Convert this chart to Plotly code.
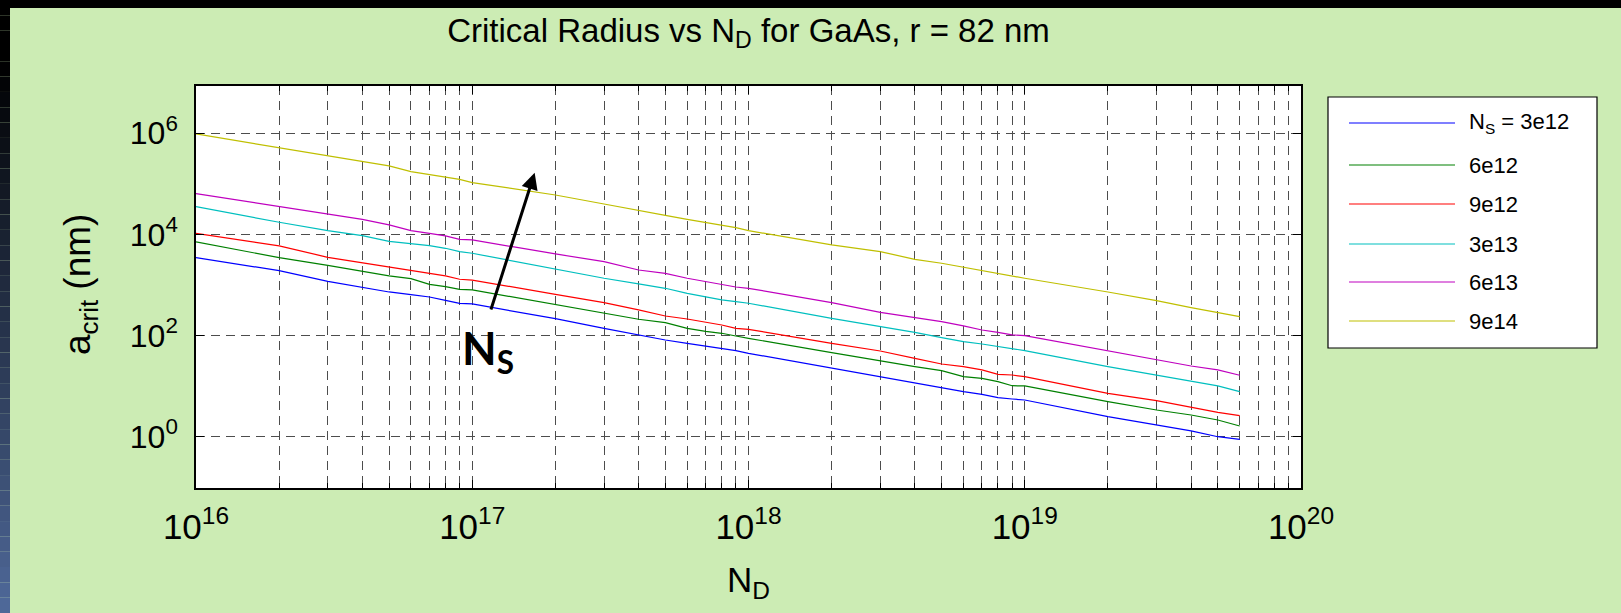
import plotly.graph_objects as go

# ---------------- data ----------------
nd = [1e16, 2e16, 3e16, 4e16, 5e16, 6e16, 7e16, 8e16, 9e16,
      1e17, 2e17, 3e17, 4e17, 5e17, 6e17, 7e17, 8e17, 9e17,
      1e18, 2e18, 3e18, 4e18, 5e18, 6e18, 7e18, 8e18, 9e18,
      1e19, 2e19, 3e19, 4e19, 5e19, 6e19]

ns_3e12 = [3.48e3, 1.92e3, 1.18e3, 914, 728, 645, 580, 498, 435,
           422, 216, 139, 103, 81.8, 70.3, 62.2, 56.0, 50.4,
           44.6, 22.5, 15.4, 11.4, 9.06, 7.78, 6.89, 5.93, 5.57,
           5.32, 2.49, 1.71, 1.30, 1.00, 0.89]
ns_6e12 = [7.10e3, 3.48e3, 2.45e3, 1.90e3, 1.51e3, 1.34e3, 1.03e3, 929, 822,
           800, 403, 275, 210, 180, 139, 121, 111, 98.2,
           88.3, 45.9, 31.4, 24.3, 20.3, 15.4, 14.3, 12.3, 10.2,
           10.1, 4.93, 3.38, 2.69, 2.14, 1.63]
ns_9e12 = [1.05e4, 5.92e3, 3.53e3, 2.77e3, 2.24e3, 1.92e3, 1.70e3, 1.51e3, 1.30e3,
           1.25e3, 655, 448, 321, 244, 213, 186, 162, 139,
           133, 70.3, 49.5, 35.5, 27.4, 24.3, 20.9, 17.1, 16.6,
           15.4, 7.21, 5.16, 3.76, 3.04, 2.61]
ns_3e13 = [3.55e4, 1.74e4, 1.19e4, 9.46e3, 7.31e3, 6.68e3, 6.00e3, 5.32e3, 4.57e3,
           4.24e3, 2.04e3, 1.36e3, 1.05e3, 861, 685, 589, 506, 469,
           435, 219, 150, 116, 91.0, 75.9, 68.2, 60.4, 55.2,
           50.4, 24.3, 16.6, 12.3, 10.1, 7.78]
ns_6e13 = [6.41e4, 3.60e4, 2.50e4, 1.99e4, 1.54e4, 1.19e4, 1.05e4, 9.33e3, 8.01e3,
           7.78e3, 4.11e3, 2.90e3, 1.98e3, 1.70e3, 1.36e3, 1.17e3, 1.03e3, 914,
           861, 448, 288, 230, 188, 155, 129, 116, 103,
           99.7, 50.4, 32.9, 25.0, 20.9, 16.4]
ns_9e14 = [9.7e5, 5.2e5, 3.56e5, 2.84e5, 2.26e5, 1.75e5, 1.52e5, 1.35e5, 1.23e5,
           1.06e5, 6.03e4, 4.0e4, 3.05e4, 2.39e4, 1.99e4, 1.71e4, 1.54e4, 1.36e4,
           1.19e4, 6.19e3, 4.57e3, 3.22e3, 2.69e3, 2.24e3, 1.90e3, 1.70e3, 1.51e3,
           1.36e3, 728, 491, 357, 288, 237]

series_names = ["N<sub>S</sub> = 3e12", "6e12", "9e12", "3e13", "6e13", "9e14"]
series_values = [ns_3e12, ns_6e12, ns_9e12, ns_3e13, ns_6e13, ns_9e14]
series_colors = ["#0000FF", "#008000", "#FF0000", "#00BFBF", "#BF00BF", "#BFBF00"]

x_tick_exp = [16, 17, 18, 19, 20]
y_tick_exp = [0, 2, 4, 6]

# ---------------- layout geometry ----------------
W, H = 1621, 613
PL, PR, PT, PB = 196, 1301, 86, 488
BG = "#CCECB4"
FONT = "Liberation Sans, Arial, sans-serif"


def px(xp):
    return (xp - PL) / (PR - PL)


def py(yp):
    return (PB - yp) / (PB - PT)


fig = go.Figure()
for name, vals, col in zip(series_names, series_values, series_colors):
    fig.add_trace(go.Scatter(x=nd, y=vals, mode="lines", name=name,
                             line=dict(color=col, width=1.2), showlegend=False))

shapes = []
# dark frame decoration: top band and left gradient strip
shapes.append(dict(type="rect", xref="paper", yref="paper",
                   x0=px(0), x1=px(W), y0=py(8), y1=py(0),
                   fillcolor="#000000", line=dict(width=0), layer="below"))
n_slices = 40
for i in range(n_slices):
    y0p = i * H / n_slices
    y1p = (i + 1) * H / n_slices
    t = max(0.0, (((y0p + y1p) / 2) - 60) / (H - 60))
    r = int(0 + t * 80)
    g = int(0 + t * 106)
    b = int(0 + t * 155)
    shapes.append(dict(type="rect", xref="paper", yref="paper",
                       x0=px(0), x1=px(10), y0=py(y1p), y1=py(y0p),
                       fillcolor=f"rgb({r},{g},{b})", line=dict(width=0), layer="below"))

# custom legend (long line samples like the original)
LX0, LX1, LY0, LY1 = 1328, 1597, 97, 348
shapes.append(dict(type="rect", xref="paper", yref="paper",
                   x0=px(LX0), x1=px(LX1), y0=py(LY1), y1=py(LY0),
                   fillcolor="white", line=dict(color="black", width=1.2)))
entry_y = [123, 165, 204, 244, 282, 321]
annotations = []
for name, col, ey in zip(series_names, series_colors, entry_y):
    shapes.append(dict(type="line", xref="paper", yref="paper",
                       x0=px(1349), x1=px(1455), y0=py(ey), y1=py(ey),
                       line=dict(color=col, width=1.2)))
    annotations.append(dict(xref="paper", yref="paper", x=px(1467), y=py(ey),
                            text=name, showarrow=False, xanchor="left", yanchor="middle",
                            font=dict(family=FONT, size=22, color="black")))

# axis titles
annotations.append(dict(xref="paper", yref="paper", x=px(80), y=py(285),
                        text="a<sub>crit</sub> (nm)", textangle=-90, showarrow=False,
                        xanchor="center", yanchor="middle",
                        font=dict(family=FONT, size=37, color="black")))
annotations.append(dict(xref="paper", yref="paper", x=0.5, y=py(582),
                        text="N<sub>D</sub>", showarrow=False,
                        xanchor="center", yanchor="middle",
                        font=dict(family=FONT, size=35, color="black")))

# arrow and N_S label
annotations.append(dict(x=17.226, y=5.221, ax=17.066, ay=2.486,
                        xref="x", yref="y", axref="x", ayref="y",
                        text="", showarrow=True, arrowhead=2, arrowsize=1.1,
                        arrowwidth=3, arrowcolor="black"))
annotations.append(dict(x=17.058, y=1.70, xref="x", yref="y",
                        text="<b>N<sub>S</sub></b>", showarrow=False,
                        font=dict(family="Lato, Open Sans, sans-serif", size=45, color="black")))

fig.update_layout(
    width=W, height=H,
    paper_bgcolor=BG, plot_bgcolor="white",
    margin=dict(l=PL, r=W - PR, t=PT, b=H - PB, autoexpand=False),
    font=dict(family=FONT, color="black"),
    title=dict(text="Critical Radius vs N<sub>D</sub> for GaAs, r = 82 nm",
               x=0.5, xref="paper", xanchor="center", y=1 - 30 / H, yanchor="middle",
               font=dict(family=FONT, size=33, color="black")),
    shapes=shapes, annotations=annotations,
)

fig.update_xaxes(
    type="log", range=[16, 20],
    tickvals=[10.0 ** e for e in x_tick_exp],
    ticktext=[f"10<sup>{e}</sup>" for e in x_tick_exp],
    tickfont=dict(family=FONT, size=35, color="black"),
    ticks="inside", ticklen=8, tickcolor="black", ticklabelstandoff=7,
    showline=True, linecolor="black", linewidth=1.5, mirror="ticks",
    showgrid=True, gridcolor="#4d4d4d", gridwidth=1, griddash="9px,6px",
    minor=dict(dtick="D1", showgrid=True, gridcolor="#4d4d4d", gridwidth=1,
               griddash="9px,6px", ticks="inside", ticklen=5, tickcolor="black"),
    zeroline=False,
)
fig.update_yaxes(
    type="log", range=[-1.014, 6.935],
    tickvals=[10.0 ** e for e in y_tick_exp],
    ticktext=[f"10<sup>{e}</sup>" for e in y_tick_exp],
    tickfont=dict(family=FONT, size=32, color="black"),
    ticks="inside", ticklen=8, tickcolor="black", ticklabelstandoff=10,
    showline=True, linecolor="black", linewidth=1.5, mirror="ticks",
    showgrid=True, gridcolor="#4d4d4d", gridwidth=1, griddash="9px,6px",
    zeroline=False,
)

fig.write_html(
    "out.html",
    config={"displayModeBar": False},
    post_script="document.body.style.margin='0';document.body.style.overflow='hidden';",
)
